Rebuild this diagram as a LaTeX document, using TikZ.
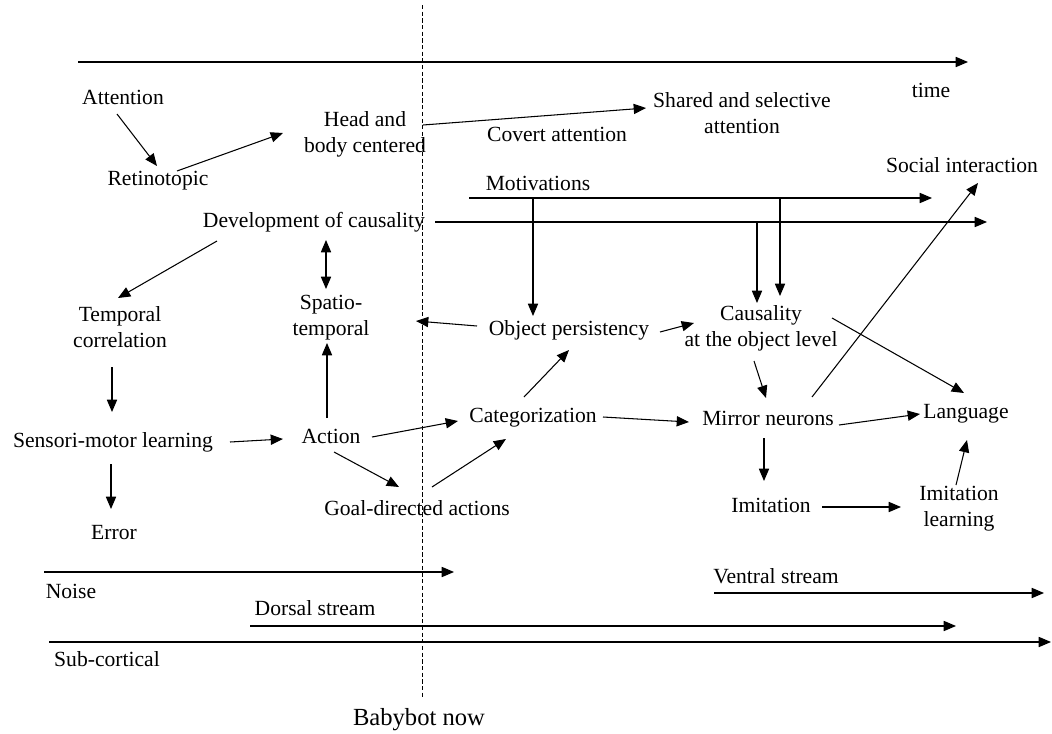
\documentclass[tikz,border=0pt]{standalone}
\usepackage{fontspec}
\setmainfont{Liberation Serif}
\usetikzlibrary{arrows.meta,calc}
\begin{document}
\begin{tikzpicture}[x=0.02cm,y=-0.02cm,line width=0.6pt,
	>={Triangle[length=7pt,width=5.8pt]},
	every node/.style={font=\fontsize{12.3}{14.8}\selectfont,align=center,inner sep=0pt}]
\useasboundingbox (0,0) rectangle (1052,734);

% labels
\node (att) at (123,97) {Attention};
\node (ret) at (158,181) {Retinotopic};
\node (head) at (365,134) {Head and\\body centered};
\node (covert) at (557,134) {Covert attention};
\node (shared) at (742,113) {Shared and selective\\attention};
\node (time) at (931,90) {time};
\node (social) at (962,165) {Social interaction};
\node (motiv) at (538,183) {Motivations};
\node (dev) at (314,222) {Development of causality};
\node (spatio) at (331,318) {Spatio-\\temporal};
\node (temp) at (120,327) {Temporal\\correlation};
\node (objp) at (569,330) {Object persistency};
\node (caus) at (761,328) {Causality\\at the object level};
\node (sens) at (113,442) {Sensori-motor learning};
\node (action) at (331,436) {Action};
\node (categ) at (533,418) {Categorization};
\node (goal) at (417,508) {Goal-directed actions};
\node (mirror) at (768,418) {Mirror neurons};
\node (lang) at (966,414) {Language};
\node (imit) at (771,505) {Imitation};
\node (imlearn) at (959,509) {Imitation\\learning};
\node (error) at (114,533) {Error};
\node (noise) at (71,591) {Noise};
\node (ventral) at (776,576) {Ventral stream};
\node (dorsal) at (315,608) {Dorsal stream};
\node (subc) at (107,659) {Sub-cortical};
\node (now) at (419,720) {\fontsize{14}{16}\selectfont Babybot now};

% free ends
\coordinate (t0) at (78,62);
\coordinate (t1) at (968,62);
\coordinate (top) at (422,5);
\coordinate (motivend) at (932,198);
\coordinate (devend) at (987,222);
\coordinate (noiseend) at (454,572);
\coordinate (ventralend) at (1044,593);
\coordinate (dorsalend) at (956,626);
\coordinate (subcend) at (1051,642);

\draw[->] (t0)--(t1);
\draw[dash pattern=on 2.4pt off 1.4pt,line width=0.5pt] (top)--($(now)+(3,-22)$);

\draw[->] ($(att)+(-6,17)$)--($(ret)+(-1,-15)$);
\draw[->] ($(ret)+(19,-10)$)--($(head)+(-82,-1)$);
\draw[->] ($(head)+(58,-9)$)--($(shared)+(-96,-5)$);

\draw[->] ($(motiv)+(-69,15)$)--(motivend);
\draw[->] ($(dev)+(121,0)$)--(devend);
\draw[->] ($(motiv)+(-5,15)$)--($(objp)+(-36,-14)$);
\draw[->] (motivend-|{$(caus)+(19,0)$})--($(caus)+(19,-32)$);
\draw[->] (devend-|{$(caus)+(-4,0)$})--($(caus)+(-4,-25)$);

\draw[<->] ($(dev)+(12,18)$)--($(spatio)+(-5,-29)$);
\draw[->] ($(dev)+(-97,19)$)--($(temp)+(-2,-29)$);
\draw[->] ($(temp)+(-8,40)$)--($(sens)+(-1,-30)$);
\draw[->] ($(sens)+(117,0)$)--($(action)+(-48,3)$);
\draw[->] ($(sens)+(-2,22)$)--($(error)+(-3,-24)$);
\draw[->] ($(action)+(-4,-18)$)--($(spatio)+(-4,25)$);
\draw[->] ($(action)+(41,1)$)--($(categ)+(-75,3)$);
\draw[->] ($(action)+(3,16)$)--($(goal)+(-18,-21)$);
\draw[->] ($(goal)+(15,-21)$)--($(categ)+(-27,21)$);
\draw[->] ($(categ)+(-9,-21)$)--($(objp)+(0,20)$);
\draw[->] ($(objp)+(-92,-4)$)--($(spatio)+(85,3)$);
\draw[->] ($(objp)+(91,2)$)--($(caus)+(-67,-5)$);
\draw[->] ($(categ)+(70,-1)$)--($(mirror)+(-79,4)$);
\draw[->] ($(caus)+(-7,33)$)--($(mirror)+(-2,-20)$);
\draw[->] ($(caus)+(71,-10)$)--($(lang)+(-2,-21)$);
\draw[->] ($(mirror)+(44,-21)$)--($(social)+(16,18)$);
\draw[->] ($(mirror)+(71,7)$)--($(lang)+(-46,0)$);
\draw[->] ($(mirror)+(-4,20)$)--($(imit)+(-7,-24)$);
\draw[->] ($(imit)+(51,2)$)--($(imlearn)+(-58,-2)$);
\draw[->] ($(imlearn)+(-3,-24)$)--($(lang)+(1,26)$);

\draw[->] ($(noise)+(-27,-19)$)--(noiseend);
\draw[->] ($(ventral)+(-62,17)$)--(ventralend);
\draw[->] ($(dorsal)+(-65,18)$)--(dorsalend);
\draw[->] ($(subc)+(-58,-17)$)--(subcend);

\end{tikzpicture}
\end{document}
